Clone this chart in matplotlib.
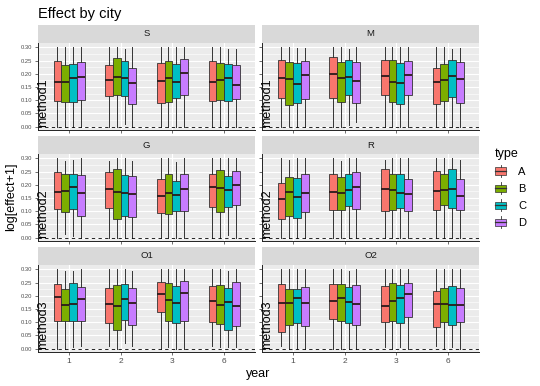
import matplotlib
matplotlib.use('Agg')
import matplotlib.pyplot as plt
import numpy as np
from matplotlib.legend_handler import HandlerBase
from matplotlib.patches import Rectangle, Patch
from matplotlib.lines import Line2D

plt.rcParams['font.family'] = ['Liberation Sans', 'DejaVu Sans']

cities = ['S', 'M', 'G', 'R', 'O1', 'O2']
methods = ['method1', 'method1', 'method2', 'method2', 'method3', 'method3']
years = ['1', '2', '3', '6']
types = ['A', 'B', 'C', 'D']
type_colors = ['#F8766D', '#7CAE00', '#00BFC4', '#C77CFF']

# 16 values per city: year 1 A..D, year 2 A..D, year 3 A..D, year 6 A..D
q1 = {
    'S':  [0.098, 0.093, 0.093, 0.101, 0.117, 0.120, 0.116, 0.086, 0.090, 0.095, 0.107, 0.120, 0.096, 0.102, 0.096, 0.104],
    'M':  [0.107, 0.080, 0.090, 0.105, 0.107, 0.092, 0.121, 0.088, 0.120, 0.093, 0.085, 0.121, 0.086, 0.097, 0.112, 0.091],
    'G':  [0.107, 0.096, 0.107, 0.083, 0.113, 0.071, 0.083, 0.078, 0.092, 0.088, 0.102, 0.101, 0.117, 0.096, 0.117, 0.124],
    'R':  [0.069, 0.082, 0.073, 0.096, 0.105, 0.105, 0.120, 0.107, 0.101, 0.103, 0.111, 0.100, 0.105, 0.124, 0.111, 0.103],
    'O1': [0.105, 0.103, 0.104, 0.103, 0.097, 0.070, 0.109, 0.089, 0.140, 0.105, 0.098, 0.105, 0.102, 0.095, 0.072, 0.085],
    'O2': [0.064, 0.089, 0.097, 0.085, 0.113, 0.105, 0.098, 0.089, 0.099, 0.103, 0.098, 0.119, 0.081, 0.102, 0.088, 0.102],
}
med = {
    'S':  [0.170, 0.168, 0.184, 0.187, 0.178, 0.188, 0.183, 0.165, 0.174, 0.183, 0.170, 0.205, 0.168, 0.177, 0.186, 0.158],
    'M':  [0.186, 0.181, 0.162, 0.197, 0.200, 0.183, 0.188, 0.172, 0.191, 0.170, 0.164, 0.196, 0.169, 0.177, 0.191, 0.182],
    'G':  [0.174, 0.177, 0.192, 0.169, 0.183, 0.173, 0.168, 0.165, 0.159, 0.170, 0.163, 0.183, 0.193, 0.187, 0.182, 0.200],
    'R':  [0.148, 0.172, 0.155, 0.168, 0.174, 0.169, 0.180, 0.193, 0.183, 0.179, 0.170, 0.165, 0.177, 0.179, 0.183, 0.159],
    'O1': [0.194, 0.165, 0.168, 0.187, 0.169, 0.160, 0.189, 0.172, 0.207, 0.183, 0.173, 0.210, 0.179, 0.165, 0.175, 0.160],
    'O2': [0.173, 0.173, 0.193, 0.173, 0.180, 0.191, 0.175, 0.169, 0.160, 0.182, 0.191, 0.206, 0.168, 0.170, 0.165, 0.166],
}
q3 = {
    'S':  [0.247, 0.235, 0.239, 0.245, 0.235, 0.260, 0.249, 0.221, 0.241, 0.249, 0.237, 0.258, 0.249, 0.242, 0.239, 0.232],
    'M':  [0.254, 0.244, 0.241, 0.247, 0.263, 0.244, 0.251, 0.245, 0.254, 0.254, 0.240, 0.250, 0.221, 0.237, 0.253, 0.246],
    'G':  [0.250, 0.240, 0.243, 0.236, 0.247, 0.262, 0.236, 0.233, 0.224, 0.243, 0.216, 0.241, 0.242, 0.256, 0.235, 0.251],
    'R':  [0.206, 0.231, 0.227, 0.240, 0.243, 0.231, 0.240, 0.247, 0.262, 0.243, 0.243, 0.221, 0.251, 0.241, 0.262, 0.222],
    'O1': [0.245, 0.226, 0.249, 0.235, 0.231, 0.243, 0.246, 0.230, 0.252, 0.249, 0.236, 0.257, 0.236, 0.240, 0.229, 0.253],
    'O2': [0.245, 0.226, 0.226, 0.235, 0.245, 0.245, 0.233, 0.241, 0.236, 0.249, 0.241, 0.250, 0.220, 0.231, 0.239, 0.230],
}
whis_hi = {
    'S':  [0.300, 0.300, 0.300, 0.300, 0.300, 0.300, 0.295, 0.300, 0.300, 0.300, 0.300, 0.300, 0.300, 0.300, 0.295, 0.295],
    'M':  [0.300, 0.300, 0.298, 0.298, 0.300, 0.300, 0.294, 0.300, 0.300, 0.300, 0.300, 0.300, 0.300, 0.300, 0.295, 0.298],
    'G':  [0.300, 0.291, 0.296, 0.300, 0.291, 0.300, 0.300, 0.291, 0.300, 0.300, 0.286, 0.300, 0.300, 0.300, 0.300, 0.300],
    'R':  [0.300, 0.294, 0.300, 0.300, 0.300, 0.291, 0.300, 0.300, 0.294, 0.300, 0.300, 0.300, 0.300, 0.300, 0.300, 0.296],
    'O1': [0.300, 0.296, 0.296, 0.300, 0.300, 0.300, 0.300, 0.296, 0.300, 0.300, 0.300, 0.300, 0.300, 0.300, 0.295, 0.300],
    'O2': [0.300, 0.300, 0.300, 0.300, 0.300, 0.300, 0.296, 0.300, 0.300, 0.300, 0.300, 0.300, 0.300, 0.300, 0.300, 0.300],
}
whis_lo = {
    'S':  [0.000, 0.000, 0.000, 0.000, 0.000, 0.000, 0.010, 0.000, 0.000, 0.000, 0.000, 0.000, 0.000, 0.000, 0.000, 0.000],
    'M':  [0.000, 0.003, 0.000, 0.000, 0.000, 0.000, 0.005, 0.016, 0.000, 0.000, 0.000, 0.000, 0.000, 0.000, 0.000, 0.000],
    'G':  [0.000, 0.013, 0.005, 0.000, 0.000, 0.000, 0.000, 0.000, 0.000, 0.000, 0.000, 0.000, 0.000, 0.000, 0.010, 0.000],
    'R':  [0.000, 0.000, 0.000, 0.000, 0.000, 0.000, 0.000, 0.000, 0.000, 0.000, 0.000, 0.000, 0.000, 0.000, 0.000, 0.000],
    'O1': [0.000, 0.000, 0.005, 0.010, 0.010, 0.000, 0.020, 0.010, 0.000, 0.005, 0.000, 0.000, 0.010, 0.005, 0.005, 0.005],
    'O2': [0.010, 0.000, 0.000, 0.000, 0.000, 0.000, 0.000, 0.000, 0.005, 0.000, 0.005, 0.000, 0.010, 0.000, 0.005, 0.000],
}

W, H = 540, 386
fig = plt.figure(figsize=(W / 100, H / 100), dpi=100)


def px_axes(x0, y0, w, h):
    return fig.add_axes([x0 / W, 1 - (y0 + h) / H, w / W, h / H])


col_x = [38, 262]
row_y = [43, 154, 265]
panel_w, panel_h, strip_h = 217, 87, 18
offsets = [-0.225, -0.075, 0.075, 0.225]
edge = '#333333'

for i, city in enumerate(cities):
    r, c = divmod(i, 2)
    ax = px_axes(col_x[c], row_y[r], panel_w, panel_h)
    ax.set_facecolor('#EBEBEB')

    stats, positions = [], []
    for yi in range(len(years)):
        for ti in range(len(types)):
            k = yi * 4 + ti
            stats.append(dict(q1=q1[city][k], med=med[city][k], q3=q3[city][k],
                              whislo=whis_lo[city][k], whishi=whis_hi[city][k], fliers=[]))
            positions.append(yi + 1 + offsets[ti])
    bp = ax.bxp(stats, positions=positions, widths=0.15, patch_artist=True,
                showcaps=False, showfliers=False, manage_ticks=False,
                boxprops=dict(edgecolor=edge, linewidth=0.6),
                whiskerprops=dict(color=edge, linewidth=0.7),
                medianprops=dict(color='#2b1a1a', linewidth=1.3))
    for patch, col in zip(bp['boxes'], type_colors * len(years)):
        patch.set_facecolor(col)

    ax.axhline(0, color='black', lw=0.6, ls=(0, (4, 4)), zorder=3)
    ax.text(0.5, 0.0, methods[i], rotation=90, ha='center', va='bottom',
            fontsize=9, color='black', zorder=4)

    ax.set_xlim(0.4, 4.6)
    ax.set_ylim(-0.013, 0.317)
    ax.set_xticks(range(1, 5))
    ax.set_yticks(np.arange(0, 0.301, 0.05))
    ax.set_yticks(np.arange(0.025, 0.31, 0.05), minor=True)
    ax.grid(which='major', color='white', lw=0.8)
    ax.grid(which='minor', axis='y', color='white', lw=0.4)
    ax.set_axisbelow(True)
    for s in ['top', 'right']:
        ax.spines[s].set_visible(False)
    for s in ['left', 'bottom']:
        ax.spines[s].set_color('#222222')
        ax.spines[s].set_linewidth(0.7)
    ax.tick_params(which='major', length=2.5, width=0.5, color=edge,
                   labelsize=4.2, labelcolor='#4D4D4D', pad=1.5)
    ax.tick_params(axis='x', labelsize=6, pad=2)
    ax.tick_params(which='minor', length=0)
    if c == 0:
        ax.set_yticklabels(['%.2f' % v for v in np.arange(0, 0.301, 0.05)])
    else:
        ax.set_yticklabels([])
    if r == 2:
        ax.set_xticklabels(years)
    else:
        ax.set_xticklabels([])

    sax = px_axes(col_x[c], row_y[r] - strip_h, panel_w, strip_h)
    sax.set_facecolor('#D9D9D9')
    sax.set_xticks([])
    sax.set_yticks([])
    for s in sax.spines.values():
        s.set_visible(False)
    sax.text(0.5, 0.5, city, ha='center', va='center', fontsize=6.8,
             color='#1A1A1A', transform=sax.transAxes)


class BoxKey(HandlerBase):
    def create_artists(self, legend, orig_handle, xdescent, ydescent,
                       width, height, fontsize, trans):
        x0, y0 = -xdescent, -ydescent
        cx = x0 + width / 2
        box = Rectangle((x0, y0 + 0.2 * height), width, 0.6 * height,
                        facecolor=orig_handle.get_facecolor(), edgecolor=edge,
                        lw=0.5, transform=trans)
        mid = Line2D([x0, x0 + width], [y0 + height / 2] * 2, color=edge, lw=0.9, transform=trans)
        lo = Line2D([cx, cx], [y0, y0 + 0.2 * height], color=edge, lw=0.6, transform=trans)
        hi = Line2D([cx, cx], [y0 + 0.8 * height, y0 + height], color=edge, lw=0.6, transform=trans)
        return [box, mid, lo, hi]


handles = [Patch(facecolor=col) for col in type_colors]
fig.legend(handles, types, title='type', handler_map={Patch: BoxKey()},
           loc='upper left', bbox_to_anchor=(495 / W, 1 - 148 / H), frameon=False,
           fontsize=8, title_fontsize=9, handlelength=1.0, handleheight=1.3,
           labelspacing=0.45, handletextpad=1.1, borderpad=0, borderaxespad=0,
           alignment='left')

fig.text(38 / W, 1 - 18 / H, 'Effect by city', fontsize=10.5, va='baseline', ha='left')
fig.text(11 / W, 1 - 197 / H, 'log[effect+1]', fontsize=9, rotation=90, ha='center', va='center')
fig.text(258 / W, 1 - 374 / H, 'year', fontsize=9, ha='center', va='center')

fig.savefig('out.png', dpi=100)
